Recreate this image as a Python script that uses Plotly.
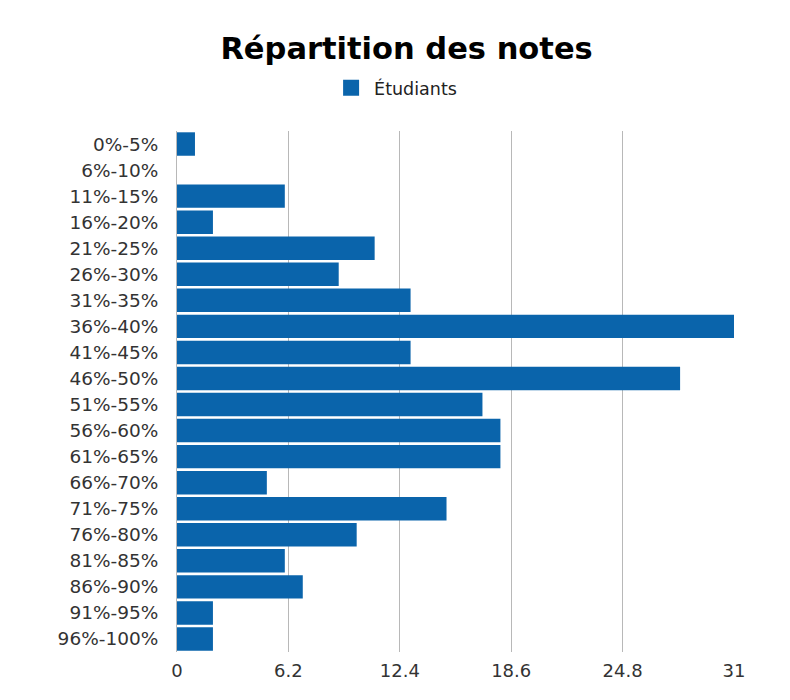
import plotly.graph_objects as go

categories = ["0%-5%", "6%-10%", "11%-15%", "16%-20%", "21%-25%", "26%-30%", "31%-35%",
              "36%-40%", "41%-45%", "46%-50%", "51%-55%", "56%-60%", "61%-65%", "66%-70%",
              "71%-75%", "76%-80%", "81%-85%", "86%-90%", "91%-95%", "96%-100%"]
students = [1, 0, 6, 2, 11, 9, 13, 31, 13, 28, 17, 18, 18, 5, 15, 10, 6, 7, 2, 2]
tick_vals = [0, 6.2, 12.4, 18.6, 24.8, 31]
tick_text = ["0", "6.2", "12.4", "18.6", "24.8", "31"]

FONT = "DejaVu Sans, sans-serif"
BAR = "#0a64ab"

fig = go.Figure()
fig.add_trace(go.Bar(
    y=categories, x=students, orientation="h", name="Étudiants",
    marker=dict(color=BAR, line=dict(width=0)),
    showlegend=False,
))
fig.add_trace(go.Scatter(
    x=[None], y=[None], mode="markers", name="Étudiants",
    marker=dict(symbol="square", size=17, color=BAR), showlegend=True,
))

fig.update_layout(
    width=790, height=700,
    margin=dict(l=169, r=64, t=123, b=56),
    paper_bgcolor="white",
    plot_bgcolor="white",
    bargap=0.1,
    title=dict(text="<b>Répartition des notes</b>", x=0.5045, xanchor="center", y=0.943, yanchor="middle",
               font=dict(family=FONT, size=30.5, color="black")),
    legend=dict(orientation="h", x=0.49, xanchor="center", y=0.886, yanchor="middle",
                xref="container", yref="container", itemwidth=36,
                font=dict(family=FONT, size=17.5, color="#222"), bgcolor="rgba(0,0,0,0)"),
    xaxis=dict(range=[0, 31], tickvals=tick_vals, ticktext=tick_text,
               showgrid=True, gridcolor="#b8b8b8", gridwidth=1, zeroline=False,
               showline=False, ticks="", ticklabelstandoff=6,
               tickfont=dict(family=FONT, size=18, color="#333")),
    yaxis=dict(autorange="reversed", showgrid=False, showline=True, linecolor="#b8b8b8", linewidth=1,
               ticks="", ticklabelstandoff=14,
               tickfont=dict(family=FONT, size=18.5, color="#333")),
)

fig.write_html("out.html")
